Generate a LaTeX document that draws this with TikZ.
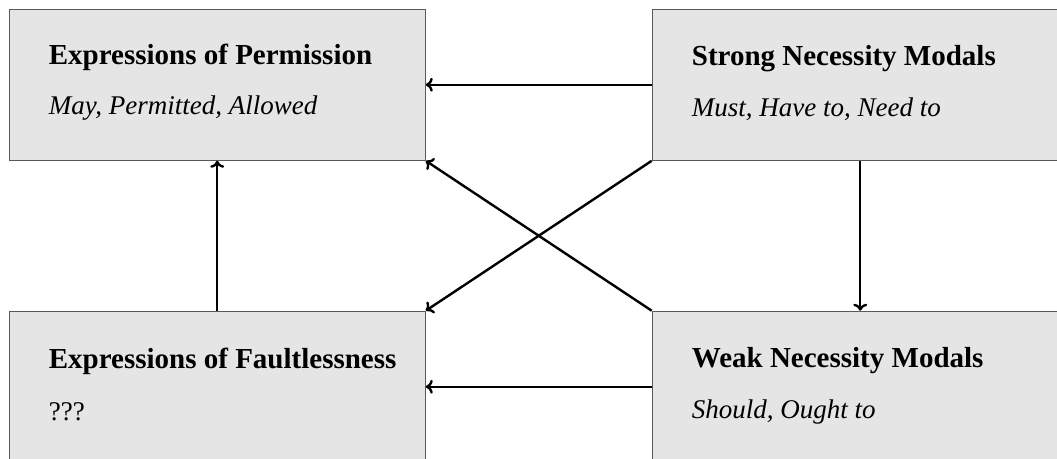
\documentclass[tikz,border=0pt]{standalone}
\usepackage{fontspec}
\setmainfont{Liberation Serif}
\usetikzlibrary{arrows.meta}
\tikzset{
  box/.style={draw=black!65, fill=black!10, line width=1.1pt, minimum width=416pt, minimum height=151pt, inner sep=0pt, anchor=north west},
  ttl/.style={anchor=base west, inner sep=0pt, font=\fontsize{29}{34}\selectfont\bfseries},
  sub/.style={anchor=base west, inner sep=0pt, font=\fontsize{27}{34}\selectfont\itshape},
  subr/.style={anchor=base west, inner sep=0pt, font=\fontsize{27}{34}\selectfont},
  arr/.style={line width=2.4pt, -{To[length=7pt,width=14pt]}}
}
\begin{document}
\begin{tikzpicture}[x=1pt,y=-1pt]
\useasboundingbox (0,0) rectangle (1057,458);
\clip (0,0) rectangle (1057,458);
\node[box] (perm) at (8.7,8.7) {};
\node[box] (strong) at (651.7,8.7) {};
\node[box] (fault) at (8.7,310.7) {};
\node[box] (weak) at (651.7,310.7) {};
\node[ttl] (permT) at ([shift={(40,56)}]perm.north west) {Expressions of Permission};
\node[sub] (permS) at ([shift={(40,106)}]perm.north west) {May, Permitted, Allowed};
\node[ttl] (strongT) at ([shift={(40,56.5)}]strong.north west) {Strong Necessity Modals};
\node[sub] (strongS) at ([shift={(40,108)}]strong.north west) {Must, Have to, Need to};
\node[ttl] (faultT) at ([shift={(40,57.5)}]fault.north west) {Expressions of Faultlessness};
\node[subr] (faultS) at ([shift={(40,109.5)}]fault.north west) {???};
\node[ttl] (weakT) at ([shift={(40,57)}]weak.north west) {Weak Necessity Modals};
\node[sub] (weakS) at ([shift={(40,108)}]weak.north west) {Should, Ought to};
\draw[arr] (strong.west) -- (perm.east);
\draw[arr] (weak.west) -- (fault.east);
\draw[arr] (fault.north) -- (perm.south);
\draw[arr] (strong.south) -- (weak.north);
\draw[arr] (weak.north west) -- (perm.south east);
\draw[arr] (strong.south west) -- (fault.north east);
\end{tikzpicture}
\end{document}
